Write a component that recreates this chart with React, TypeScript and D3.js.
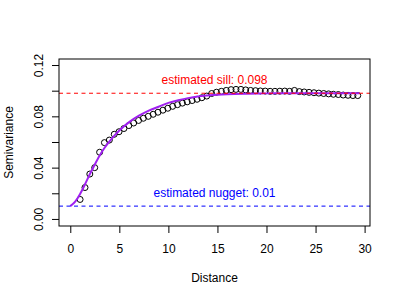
import { useEffect, useRef } from 'react';
import * as d3 from 'd3';

// empirical semivariogram (lag distance, semivariance)
const lagDist = [
  1.0, 1.5, 1.99, 2.49, 2.99, 3.48, 3.98, 4.48, 4.97, 5.47, 5.97, 6.46, 6.96, 7.45, 7.95,
  8.45, 8.94, 9.44, 9.94, 10.43, 10.93, 11.43, 11.92, 12.42, 12.92, 13.41, 13.91, 14.41,
  14.9, 15.4, 15.9, 16.39, 16.89, 17.39, 17.88, 18.38, 18.88, 19.37, 19.87, 20.37, 20.86,
  21.36, 21.86, 22.35, 22.85, 23.35, 23.84, 24.34, 24.84, 25.33, 25.83, 26.33, 26.82,
  27.32, 27.82, 28.31, 28.81, 29.3
];
const semivar = [
  0.0152, 0.0245, 0.035, 0.04, 0.052, 0.0595, 0.0615, 0.066, 0.068, 0.0705, 0.0728, 0.0748,
  0.0768, 0.0785, 0.08, 0.0816, 0.0832, 0.0848, 0.0863, 0.0878, 0.0891, 0.0903, 0.0913,
  0.0923, 0.0933, 0.0945, 0.0958, 0.0978, 0.0988, 0.0995, 0.1002, 0.1008, 0.101, 0.101,
  0.1006, 0.1002, 0.1, 0.0998, 0.0997, 0.0995, 0.0995, 0.0996, 0.0997, 0.0995, 0.1002,
  0.0993, 0.099, 0.0987, 0.0984, 0.0981, 0.0978, 0.0975, 0.0972, 0.097, 0.0966, 0.0964,
  0.0962, 0.0962
];

// fitted model line
const fitDist = [0, 0.5, 1, 1.5, 2, 2.5, 3, 3.5, 4, 4.5, 5, 6, 7, 8, 9, 10, 11, 12, 13, 14, 15, 16, 18, 20, 22, 25, 29.5];
const fitGamma = [
  0.01, 0.0135, 0.0195, 0.027, 0.035, 0.0425, 0.0495, 0.0555, 0.0605, 0.065, 0.069, 0.0755,
  0.0805, 0.0845, 0.0875, 0.0905, 0.0925, 0.0942, 0.0955, 0.0963, 0.0969, 0.0973, 0.0977,
  0.0979, 0.098, 0.098, 0.098
];

const sill = 0.098;
const nugget = 0.01;

const xTicks = [0, 5, 10, 15, 20, 25, 30];
const yTicks = [0, 0.02, 0.04, 0.06, 0.08, 0.1, 0.12];
const yLabelled = [0, 0.04, 0.08, 0.12];

const App = () => {
  const ref = useRef<SVGSVGElement>(null);

  useEffect(() => {
    const svg = d3.select(ref.current);
    svg.selectAll('*').remove();

    const left = 59, right = 370, top = 59, bottom = 226;
    const x = d3.scaleLinear().domain([-1.15, 30.55]).range([left, right]);
    const y = d3.scaleLinear().domain([-0.0055, 0.1247]).range([bottom, top]);
    const font = 'Liberation Sans, Arial, sans-serif';

    // points
    svg.append('g')
      .selectAll('circle')
      .data(lagDist)
      .join('circle')
      .attr('cx', d => x(d))
      .attr('cy', (d, i) => y(semivar[i]))
      .attr('r', 3)
      .attr('fill', 'none')
      .attr('stroke', '#000')
      .attr('stroke-width', 1);

    // model curve
    const line = d3.line<number>()
      .x(d => x(d))
      .y((d, i) => y(fitGamma[i]))
      .curve(d3.curveMonotoneX);
    svg.append('path')
      .datum(fitDist)
      .attr('d', line)
      .attr('fill', 'none')
      .attr('stroke', '#A020F0')
      .attr('stroke-width', 2);

    // sill / nugget reference lines
    svg.append('line')
      .attr('x1', left).attr('x2', right)
      .attr('y1', y(sill)).attr('y2', y(sill))
      .attr('stroke', '#ff0000').attr('stroke-width', 1).attr('stroke-dasharray', '4,3.5');
    svg.append('line')
      .attr('x1', left).attr('x2', right)
      .attr('y1', y(nugget)).attr('y2', y(nugget))
      .attr('stroke', '#0000ff').attr('stroke-width', 1).attr('stroke-dasharray', '4,3.5');

    svg.append('text')
      .attr('x', x(14.7)).attr('y', y(sill + 0.0103))
      .attr('text-anchor', 'middle').attr('dominant-baseline', 'central')
      .attr('font-family', font).attr('font-size', 12).attr('fill', '#ff0000')
      .text('estimated sill: ' + sill);
    svg.append('text')
      .attr('x', x(14.7)).attr('y', y(nugget + 0.0103))
      .attr('text-anchor', 'middle').attr('dominant-baseline', 'central')
      .attr('font-family', font).attr('font-size', 12).attr('fill', '#0000ff')
      .text('estimated nugget: ' + nugget);

    // axes
    const xAxis = svg.append('g')
      .attr('transform', `translate(0,${bottom})`)
      .call(d3.axisBottom(x).tickValues(xTicks).tickSize(7).tickPadding(11).tickFormat(d3.format('d')));
    xAxis.select('.domain').remove();
    xAxis.selectAll('text').attr('font-family', font).attr('font-size', 12).attr('fill', '#000');

    const yAxis = svg.append('g')
      .attr('transform', `translate(${left},0)`)
      .call(d3.axisLeft(y).tickValues(yTicks).tickSize(7)
        .tickFormat(d => (yLabelled.some(v => Math.abs(v - +d) < 1e-9) ? d3.format('.2f')(d) : '')));
    yAxis.select('.domain').remove();
    yAxis.selectAll('text')
      .attr('x', 0).attr('dy', 0)
      .attr('text-anchor', 'middle')
      .attr('transform', 'translate(-16.5,0) rotate(-90)')
      .attr('font-family', font).attr('font-size', 12).attr('fill', '#000');

    // frame
    svg.append('rect')
      .attr('x', left).attr('y', top)
      .attr('width', right - left).attr('height', bottom - top)
      .attr('fill', 'none').attr('stroke', '#000').attr('stroke-width', 1);

    // axis titles
    svg.append('text')
      .attr('x', (left + right) / 2).attr('y', 282)
      .attr('text-anchor', 'middle')
      .attr('font-family', font).attr('font-size', 12)
      .text('Distance');
    svg.append('text')
      .attr('transform', `translate(13,${(top + bottom) / 2}) rotate(-90)`)
      .attr('text-anchor', 'middle')
      .attr('font-family', font).attr('font-size', 12)
      .text('Semivariance');
  }, []);

  return (
    <svg
      ref={ref}
      width={400}
      height={300}
      style={{ position: 'absolute', left: 0, top: 0, background: '#fff' }}
    />
  );
};

export default App;
